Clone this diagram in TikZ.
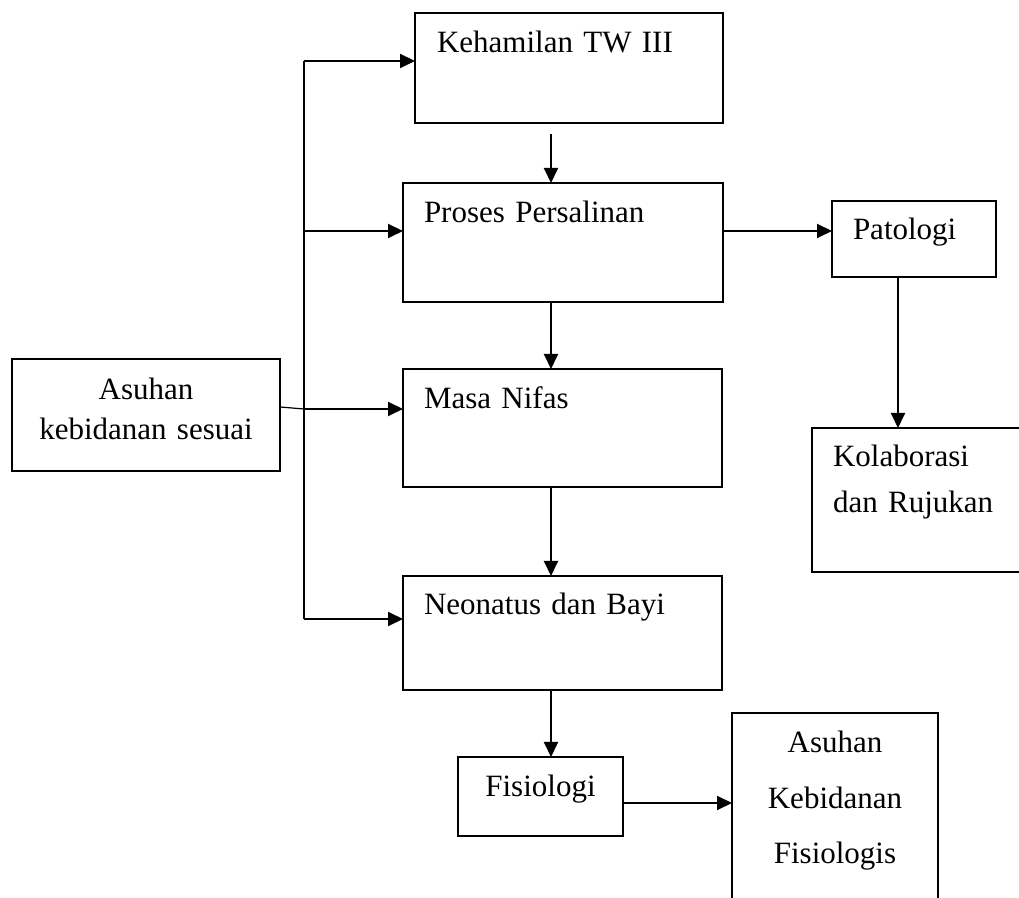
\documentclass[tikz,border=0pt]{standalone}
\usepackage{fontspec}
\setmainfont{Liberation Serif}
\usetikzlibrary{arrows.meta}

\begin{document}
\begin{tikzpicture}[
    x=0.5pt, y=-0.5pt,
    every node/.style={font=\fontsize{15.5}{20}\selectfont},
    box/.style={rectangle, draw=black, line width=0.9pt, inner ysep=0pt, outer sep=0pt, anchor=north west},
    lbox/.style={box, align=left, inner xsep=10.5pt},
    cbox/.style={box, align=center, inner xsep=0pt},
    arrow/.style={-{Triangle[length=7.5pt, width=7pt]}, line width=1pt},
    link/.style={line width=1pt}
]
\useasboundingbox (0,0) rectangle (1019,898);
\clip (0,0) rectangle (1019,898);

% --- Main column ---
\node[lbox, inner xsep=11pt, text width=132pt, text height=20pt, text depth=35pt] (keh) at (415,13) {Kehamilan TW III};
\node[lbox, text width=139pt, text height=20pt, text depth=39.5pt] (pros) at (403,183) {Proses Persalinan};
\node[lbox, text width=138.5pt, text height=20pt, text depth=39pt] (nifas) at (403,369) {Masa Nifas};
\node[lbox, text width=138.5pt, text height=19.5pt, text depth=37.5pt] (neo) at (403,576) {Neonatus dan Bayi};
\node[cbox, text width=82.5pt, text height=20pt, text depth=19.5pt] (fis) at (458,757) {Fisiologi};
\node[cbox, text width=103pt, text height=20pt, text depth=83.5pt, font=\fontsize{15.5}{27.75}\selectfont] (akf) at (732,713) {Asuhan\\Kebidanan\\Fisiologis};

% --- Right branch ---
\node[lbox, text width=61pt, text height=19.5pt, text depth=18.5pt] (pat) at (832,201) {Patologi};
\node[lbox, text width=93pt, text height=19.5pt, text depth=52.5pt, font=\fontsize{15.5}{23}\selectfont] (kol) at (812,428) {Kolaborasi\\dan Rujukan};

% --- Left box ---
\node[cbox, text width=134pt, text height=20.5pt, text depth=35.5pt] (asuh) at (12,359) {Asuhan\\kebidanan sesuai};

% --- Spine on the left ---
\coordinate (spTop) at (304,61);
\coordinate (spPros) at (304,231);
\coordinate (spNifas) at (304,409);
\coordinate (spNeo) at (304,619);
\coordinate (colMid) at (551,0);
\coordinate (colPat) at (898,0);
\coordinate (rowFis) at (0,803);

\draw[link] (spTop) -- (spNeo);
\draw[line width=0.6pt] ([yshift=4pt]asuh.east) -- (spNifas);
\draw[arrow] (spTop) -- (spTop -| keh.west);
\draw[arrow] (spPros) -- (spPros -| pros.west);
\draw[arrow] (spNifas) -- (spNifas -| nifas.west);
\draw[arrow] (spNeo) -- (spNeo -| neo.west);

% --- Vertical flow ---
\draw[arrow] ([yshift=-5.5pt]keh.south -| colMid) -- (pros.north -| colMid);
\draw[arrow] (pros.south -| colMid) -- (nifas.north -| colMid);
\draw[arrow] (nifas.south -| colMid) -- (neo.north -| colMid);
\draw[arrow] (neo.south -| colMid) -- (fis.north -| colMid);
\draw[arrow] (fis.east |- rowFis) -- (akf.west |- rowFis);

% --- Pathology branch ---
\draw[arrow] (pros.east |- spPros) -- (pat.west |- spPros);
\draw[arrow] (pat.south -| colPat) -- (kol.north -| colPat);
\end{tikzpicture}
\end{document}
